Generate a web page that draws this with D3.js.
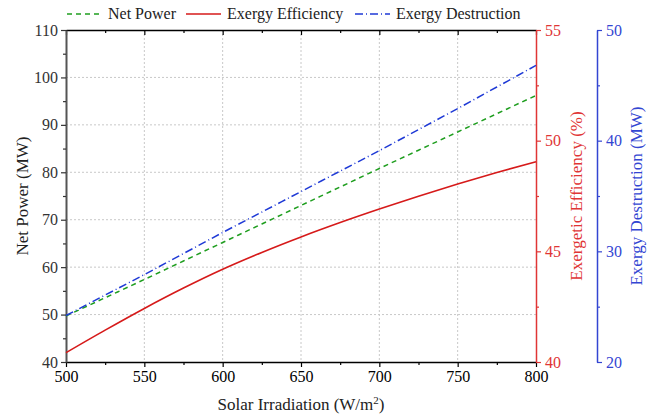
<!DOCTYPE html>
<html><head><meta charset="utf-8">
<script src="https://cdn.jsdelivr.net/npm/d3@7"></script>
<style>body{margin:0;background:#fff}svg{display:block}svg text{font-family:"Liberation Serif",Tinos,"Times New Roman","DejaVu Serif",serif !important}</style>
</head><body><svg id="c" width="654" height="416"></svg>
<script>
const irradiation = [500,525,550,575,600,625,650,675,700,725,750,775,800];
const netPower = [49.7,53.55,57.4,61.3,65.2,69.1,73.0,76.9,80.8,84.65,88.5,92.35,96.2];
const exergyEfficiency = [40.42,41.44,42.42,43.34,44.19,44.95,45.65,46.30,46.91,47.49,48.04,48.56,49.05];
const exergyDestruction = [24.2,26.05,27.9,29.8,31.7,33.55,35.4,37.25,39.1,41.0,42.9,44.85,46.8];
const xTicks = [500,550,600,650,700,750,800];
const leftTicks = [40,50,60,70,80,90,100,110];
const redTicks = [40,45,50,55];
const blueTicks = [20,30,40,50];

const FONT='"Liberation Serif", Tinos, "Times New Roman", "DejaVu Serif", serif';
const GREEN="#1f9e1f", RED="#d61a1a", BLUE="#1f3ad6", REDAX="#e03535", BLUEAX="#3346d2";
const svg=d3.select("#c");
const L=66,R=536,T=30,B=362;
const x=d3.scaleLinear().domain([500,800]).range([L,R]);
const yL=d3.scaleLinear().domain([40,110]).range([B,T]);
const yR=d3.scaleLinear().domain([40,55]).range([B,T]);
const yB=d3.scaleLinear().domain([20,50]).range([B,T]);

// grid
const g=svg.append("g");
xTicks.slice(1,-1).forEach(v=>g.append("line").attr("x1",x(v)).attr("x2",x(v)).attr("y1",T).attr("y2",B).attr("stroke","#c8c8c8").attr("stroke-dasharray","2,2"));
leftTicks.slice(1,-1).forEach(v=>g.append("line").attr("x1",L).attr("x2",R).attr("y1",yL(v)).attr("y2",yL(v)).attr("stroke","#c8c8c8").attr("stroke-dasharray","2,2"));

function minor(arr){const o=[];for(let i=0;i<arr.length-1;i++)o.push((arr[i]+arr[i+1])/2);return o;}

function styleAxis(sel,color,fs){sel.attr("font-family",FONT);
 sel.selectAll("path").attr("stroke",color).attr("stroke-width",1.5);
 sel.selectAll("line").attr("stroke",color).attr("stroke-width",1.2);
 sel.selectAll("text").attr("fill",color).style("font-size",fs+"px").style("font-family",FONT);}

const xa=svg.append("g").attr("transform",`translate(0,${B})`).call(d3.axisBottom(x).tickValues(xTicks).tickSize(5).tickSizeOuter(0).tickPadding(4));
styleAxis(xa,"#000",16);
svg.append("g").attr("transform",`translate(0,${B})`).call(d3.axisBottom(x).tickValues(minor(xTicks)).tickSize(3).tickFormat("")).call(s=>{s.select("path").remove();s.selectAll("line").attr("stroke","#000").attr("stroke-width",1.2);});
const ta=svg.append("g").attr("transform",`translate(0,${T})`).call(d3.axisBottom(x).tickValues(xTicks).tickSize(5).tickSizeOuter(0).tickFormat(""));
styleAxis(ta,"#000",16);
svg.append("g").attr("transform",`translate(0,${T})`).call(d3.axisBottom(x).tickValues(minor(xTicks)).tickSize(3).tickFormat("")).call(s=>{s.select("path").remove();s.selectAll("line").attr("stroke","#000").attr("stroke-width",1.2);});

const la=svg.append("g").attr("transform",`translate(${L},0)`).call(d3.axisLeft(yL).tickValues(leftTicks).tickSize(5).tickSizeOuter(0).tickPadding(3));
styleAxis(la,"#333",16); la.select("path").attr("stroke","#555").attr("stroke-width",2);
svg.append("g").attr("transform",`translate(${L},0)`).call(d3.axisLeft(yL).tickValues(minor(leftTicks)).tickSize(3).tickFormat("")).call(s=>{s.select("path").remove();s.selectAll("line").attr("stroke","#333").attr("stroke-width",1.2);});

const ra=svg.append("g").attr("transform",`translate(${R},0)`).call(d3.axisRight(yR).tickValues(redTicks).tickSize(5).tickSizeOuter(0).tickPadding(4));
styleAxis(ra,REDAX,16);
svg.append("g").attr("transform",`translate(${R},0)`).call(d3.axisRight(yR).tickValues(minor(redTicks)).tickSize(3).tickFormat("")).call(s=>{s.select("path").remove();s.selectAll("line").attr("stroke",REDAX).attr("stroke-width",1.2);});

const BX=597;
const ba=svg.append("g").attr("transform",`translate(${BX},0)`).call(d3.axisRight(yB).tickValues(blueTicks).tickSize(5).tickSizeOuter(0).tickPadding(4));
styleAxis(ba,BLUEAX,16);
svg.append("g").attr("transform",`translate(${BX},0)`).call(d3.axisRight(yB).tickValues(minor(blueTicks)).tickSize(3).tickFormat("")).call(s=>{s.select("path").remove();s.selectAll("line").attr("stroke",BLUEAX).attr("stroke-width",1.2);});

// titles
function txt(){return svg.append("text").attr("font-family",FONT).style("font-family",FONT);}
txt().attr("x",(L+R)/2).attr("y",410).attr("text-anchor","middle").style("font-size","17px").attr("fill","#222")
 .html('Solar Irradiation (W/m<tspan baseline-shift="super" font-size="11px">2</tspan>)');
txt().attr("transform",`translate(28,${(T+B)/2}) rotate(-90)`).attr("text-anchor","middle").style("font-size","17px").attr("fill","#222").text("Net Power (MW)");
txt().attr("transform",`translate(582,${(T+B)/2}) rotate(-90)`).attr("text-anchor","middle").style("font-size","17px").attr("fill",REDAX).text("Exergetic Efficiency (%)");
txt().attr("transform",`translate(642,${(T+B)/2}) rotate(-90)`).attr("text-anchor","middle").style("font-size","17px").attr("fill",BLUEAX).text("Exergy Destruction (MW)");

// lines
const line=(ys,vals)=>d3.line().curve(d3.curveMonotoneX).x((d,i)=>x(irradiation[i])).y(d=>ys(d))(vals);
svg.append("path").attr("d",line(yL,netPower)).attr("fill","none").attr("stroke",GREEN).attr("stroke-width",1.5).attr("stroke-dasharray","5,4");
svg.append("path").attr("d",line(yB,exergyDestruction)).attr("fill","none").attr("stroke",BLUE).attr("stroke-width",1.5).attr("stroke-dasharray","8,3,1,3");
svg.append("path").attr("d",line(yR,exergyEfficiency)).attr("fill","none").attr("stroke",RED).attr("stroke-width",1.6);

// legend
const leg=[{t:"Net Power",c:GREEN,d:"5,4",x:67},{t:"Exergy Efficiency",c:RED,d:null,x:186},{t:"Exergy Destruction",c:BLUE,d:"8,3,1,3",x:355}];
leg.forEach(o=>{
 const l=svg.append("line").attr("x1",o.x).attr("x2",o.x+35).attr("y1",14).attr("y2",14).attr("stroke",o.c).attr("stroke-width",1.6);
 if(o.d) l.attr("stroke-dasharray",o.d);
 txt().attr("x",o.x+41).attr("y",19).style("font-size","16px").attr("fill","#222").text(o.t);
});
</script></body></html>
